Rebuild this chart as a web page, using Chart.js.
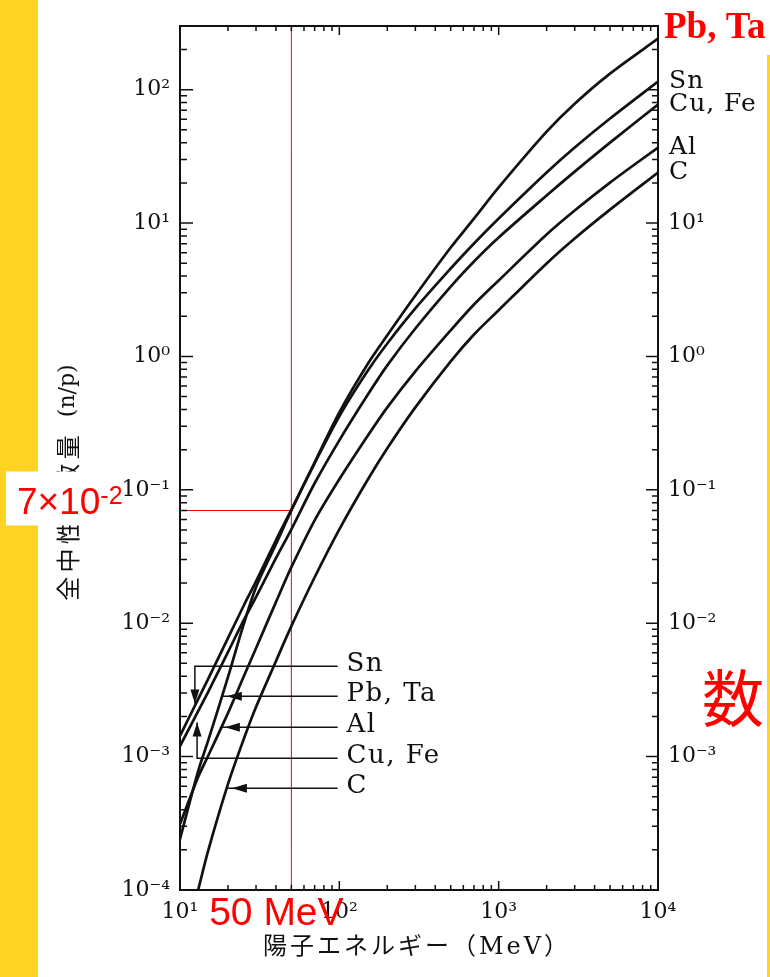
<!DOCTYPE html>
<html>
<head>
<meta charset="utf-8">
<title>陽子エネルギーと全中性子数量</title>
<style>
  html, body { margin: 0; padding: 0; background: #ffffff; }
  canvas { display: block; }
</style>
<script src="https://cdn.jsdelivr.net/npm/chart.js@4/dist/chart.umd.min.js"></script>
</head>
<body>
<canvas id="chart" width="770" height="977"></canvas>
<script>
// Proton energy grid (MeV) shared by all target curves
const energies = [10, 13, 15, 20, 25, 30, 40, 50, 70, 100, 150, 200, 300, 500, 700, 1000, 2000, 3000, 5000, 10000];

// Total neutron yield per proton (n/p) for each target material
const yieldPbTa = [2.41e-4, 7.78e-4, 1.31e-3, 3.94e-3, 9.66e-3, 1.86e-2, 3.91e-2, 7.0e-2, 0.161, 0.381, 0.871, 1.44, 2.86, 6.55, 10.8, 18.5, 48.4, 78.5, 132, 241];
const yieldSn   = [1.43e-3, 2.70e-3, 3.81e-3, 7.72e-3, 1.34e-2, 2.06e-2, 4.19e-2, 7.1e-2, 0.158, 0.356, 0.773, 1.25, 2.29, 4.56, 7.02, 10.8, 23.9, 36.8, 60.7, 115];
const yieldCuFe = [1.20e-3, 2.19e-3, 3.04e-3, 6.07e-3, 1.04e-2, 1.57e-2, 3.07e-2, 5.06e-2, 0.112, 0.235, 0.511, 0.857, 1.62, 3.34, 5.15, 7.79, 16.1, 24.3, 40.1, 77.2];
const yieldAl   = [3.12e-4, 7.02e-4, 1.01e-3, 2.12e-3, 3.94e-3, 6.50e-3, 1.44e-2, 2.63e-2, 5.91e-2, 0.120, 0.252, 0.415, 0.773, 1.57, 2.45, 3.71, 8.20, 12.4, 20.1, 36.8];
const yieldC    = [null, 1.0e-4, 1.96e-4, 6.22e-4, 1.33e-3, 2.35e-3, 5.19e-3, 9.50e-3, 2.21e-2, 5.06e-2, 0.118, 0.205, 0.415, 0.918, 1.46, 2.22, 4.98, 7.66, 12.6, 23.9];

// Labelled decades on each axis
const xTickValues = [10, 100, 1000, 10000];
const yLeftTickValues = [1e-4, 1e-3, 1e-2, 1e-1, 1, 10, 100];
const yRightTickValues = [1e-3, 1e-2, 1e-1, 1, 10];

// Reading marked on the Pb, Ta curve
const markEnergy = 50;   // MeV
const markYield = 7e-2;  // n/p

const series = [
  { label: 'Pb, Ta', values: yieldPbTa },
  { label: 'Sn', values: yieldSn },
  { label: 'Cu, Fe', values: yieldCuFe },
  { label: 'Al', values: yieldAl },
  { label: 'C', values: yieldC },
];

// Curve names written at the high-energy ends
const endLabels = [
  { text: 'Sn', values: yieldSn },
  { text: 'Cu, Fe', values: yieldCuFe },
  { text: 'Al', values: yieldAl },
  { text: 'C', values: yieldC },
];

// Leader lines of the low-energy key (data coordinates)
const callouts = [
  { text: 'Sn',     lineAt: 4.75e-3, elbowAt: 12.4, tipAt: 2.5e-3, dir: 'down' },
  { text: 'Pb, Ta', lineAt: 2.83e-3, tipEnergy: 18.3 },
  { text: 'Al',     lineAt: 1.66e-3, tipEnergy: 17.8 },
  { text: 'Cu, Fe', lineAt: 9.7e-4,  elbowAt: 12.8, tipAt: 1.8e-3, dir: 'up' },
  { text: 'C',      lineAt: 5.8e-4,  tipEnergy: 19.7 },
];
const calloutEndEnergy = 97.6;
const calloutTextEnergy = 111;

const supMap = { '-': '⁻', '0': '⁰', '1': '¹', '2': '²', '3': '³', '4': '⁴', '5': '⁵', '6': '⁶', '7': '⁷', '8': '⁸', '9': '⁹' };
const sup = n => String(n).split('').map(c => supMap[c]).join('');
const decadeLabel = v => {
  const e = Math.log10(v);
  return Math.abs(e - Math.round(e)) < 1e-6 ? '10' + sup(Math.round(e)) : '';
};

const INK = '#111111';
const RED = '#ff0000';
const YELLOW = '#fed321';
const serif = "'DejaVu Serif', 'DejaVu Sans', serif";
const cjk = "'Noto Sans CJK JP', 'Noto Sans CJK SC', sans-serif";

function arrowHead(ctx, x, y, dx, dy, len, half) {
  const bx = x - dx * len, by = y - dy * len;
  ctx.beginPath();
  ctx.moveTo(x, y);
  ctx.lineTo(bx - dy * half, by + dx * half);
  ctx.lineTo(bx + dy * half, by - dx * half);
  ctx.closePath();
  ctx.fill();
}

const decorations = {
  id: 'decorations',
  beforeDraw(chart) {
    const { ctx, width, height } = chart;
    ctx.save();
    ctx.fillStyle = '#ffffff';
    ctx.fillRect(0, 0, width, height);
    ctx.fillStyle = YELLOW;
    ctx.fillRect(0, 0, 38, height);
    ctx.fillRect(767, 55, width - 767, height - 55);
    ctx.restore();
  },
  beforeDatasetsDraw(chart) {
    const { ctx, chartArea: a, scales } = chart;
    const gx = scales.x.getPixelForValue(markEnergy);
    const gy = scales.y.getPixelForValue(markYield);
    ctx.save();
    ctx.strokeStyle = RED;
    ctx.lineWidth = 1;
    ctx.beginPath();
    ctx.moveTo(gx, a.top);
    ctx.lineTo(gx, a.bottom);
    ctx.moveTo(a.left, gy);
    ctx.lineTo(gx, gy);
    ctx.stroke();
    ctx.restore();
  },
  afterDraw(chart) {
    const { ctx, chartArea: a, scales } = chart;
    const xs = scales.x, ys = scales.y;
    ctx.save();

    // frame
    ctx.strokeStyle = INK;
    ctx.lineWidth = 2;
    ctx.strokeRect(a.left, a.top, a.right - a.left, a.bottom - a.top);

    // inward tick marks on all four sides
    ctx.lineWidth = 1.5;
    ctx.beginPath();
    for (let e = 1; e <= 4; e++) {
      for (let m = 1; m <= 9; m++) {
        const v = m * Math.pow(10, e);
        if (v > xs.max * 1.0001) break;
        const px = xs.getPixelForValue(v);
        const major = m === 1;
        ctx.moveTo(px, a.bottom); ctx.lineTo(px, a.bottom - (major ? 9 : 5));
        ctx.moveTo(px, a.top); ctx.lineTo(px, a.top + (major ? 9 : 5));
      }
    }
    for (let e = -4; e <= 2; e++) {
      for (let m = 1; m <= 9; m++) {
        const v = m * Math.pow(10, e);
        if (v > ys.max * 1.0001) break;
        const py = ys.getPixelForValue(v);
        const major = m === 1;
        ctx.moveTo(a.left, py); ctx.lineTo(a.left + (major ? 13 : 7), py);
        ctx.moveTo(a.right, py); ctx.lineTo(a.right - (major ? 12 : 6), py);
      }
    }
    ctx.stroke();

    // low-energy key with leader lines and arrows
    ctx.fillStyle = INK;
    ctx.strokeStyle = INK;
    ctx.lineWidth = 1.5;
    const xEnd = xs.getPixelForValue(calloutEndEnergy);
    const xText = xs.getPixelForValue(calloutTextEnergy);
    ctx.font = '26px ' + serif;
    ctx.textBaseline = 'middle';
    ctx.textAlign = 'left';
    ctx.letterSpacing = '1.5px';
    callouts.forEach(c => {
      const ly = ys.getPixelForValue(c.lineAt);
      ctx.beginPath();
      if (c.elbowAt) {
        const ex = xs.getPixelForValue(c.elbowAt);
        const ty = ys.getPixelForValue(c.tipAt);
        ctx.moveTo(xEnd, ly); ctx.lineTo(ex, ly); ctx.lineTo(ex, ty);
        ctx.stroke();
        arrowHead(ctx, ex, ty, 0, c.dir === 'down' ? 1 : -1, 14, 4.5);
      } else {
        const tx = xs.getPixelForValue(c.tipEnergy);
        ctx.moveTo(xEnd, ly); ctx.lineTo(tx, ly);
        ctx.stroke();
        arrowHead(ctx, tx + 5, ly, -1, 0, 15, 4.5);
      }
      ctx.fillText(c.text, xText, ly - 2);
    });

    // curve names at the right-hand ends
    ctx.font = '25px ' + serif;
    ctx.letterSpacing = '1px';
    endLabels.forEach(l => {
      const y = ys.getPixelForValue(l.values[l.values.length - 1]);
      ctx.fillText(l.text, a.right + 11, y);
    });
    ctx.letterSpacing = '0px';

    // axis titles
    ctx.fillStyle = INK;
    ctx.textAlign = 'center';
    ctx.textBaseline = 'middle';
    ctx.font = "24px 'DejaVu Serif', " + cjk;
    ctx.letterSpacing = '3px';
    ctx.fillText('陽子エネルギー（MeV）', (a.left + a.right) / 2 - 2, 948);
    ctx.letterSpacing = '0px';

    ctx.save();
    ctx.translate(68, 603);
    ctx.rotate(-Math.PI / 2);
    ctx.font = '24px ' + cjk;
    const yTitle = '全中性子数量';
    const pitch = 28.3;
    for (let i = 0; i < yTitle.length; i++) {
      ctx.fillText(yTitle[i], pitch * (i + 0.5), 0);
    }
    ctx.textAlign = 'left';
    ctx.font = '22px ' + serif;
    ctx.fillText('(n/p)', pitch * yTitle.length + 16, 0);
    ctx.restore();

    // red annotations of the marked reading
    const gx = xs.getPixelForValue(markEnergy);
    const gy = ys.getPixelForValue(markYield);
    const exp = Math.floor(Math.log10(markYield));
    const mant = Math.round(markYield / Math.pow(10, exp));
    ctx.fillStyle = '#ffffff';
    ctx.fillRect(6, gy - 39, 118, 54);
    ctx.fillStyle = RED;
    ctx.textAlign = 'left';
    ctx.textBaseline = 'alphabetic';
    ctx.font = "37px 'Liberation Sans', Arial, sans-serif";
    const base = mant + '×10';
    ctx.fillText(base, 17, gy + 4);
    const bw = ctx.measureText(base).width;
    ctx.font = "25px 'Liberation Sans', Arial, sans-serif";
    ctx.fillText(String(exp), 17 + bw, gy - 6);

    ctx.font = "39px 'Liberation Sans', Arial, sans-serif";
    ctx.textAlign = 'center';
    ctx.fillText(markEnergy + ' MeV', gx - 15, 925);

    ctx.font = "bold 37px 'Liberation Serif', serif";
    ctx.textAlign = 'left';
    ctx.fillText('Pb, Ta', 664, 38);

    ctx.font = '62px ' + cjk;
    ctx.textAlign = 'center';
    ctx.textBaseline = 'middle';
    ctx.fillText('数', 733, 698);

    ctx.restore();
  }
};

const tickFont = { family: serif, size: 22 };

new Chart(document.getElementById('chart'), {
  type: 'scatter',
  data: {
    datasets: series.map(s => ({
      label: s.label,
      data: energies.map((e, i) => ({ x: e, y: s.values[i] })).filter(p => p.y !== null),
      showLine: true,
      borderColor: INK,
      borderWidth: 2.7,
      pointRadius: 0,
      pointHoverRadius: 0,
      fill: false,
      tension: 0.3
    }))
  },
  options: {
    responsive: false,
    animation: false,
    devicePixelRatio: 1,
    layout: { padding: 0 },
    plugins: { legend: { display: false }, tooltip: { enabled: false } },
    events: [],
    scales: {
      x: {
        type: 'logarithmic',
        position: 'bottom',
        min: 10, max: 10000,
        grid: { display: false, drawTicks: false },
        border: { display: false },
        afterBuildTicks: s => { s.ticks = xTickValues.map(v => ({ value: v })); },
        afterFit: s => { s.height = 87; s.paddingLeft = 0; s.paddingRight = 0; },
        ticks: { callback: v => decadeLabel(v), font: tickFont, color: INK, padding: 9, autoSkip: false, maxRotation: 0 }
      },
      xTop: {
        type: 'logarithmic',
        position: 'top',
        min: 10, max: 10000,
        grid: { display: false, drawTicks: false },
        border: { display: false },
        ticks: { display: false },
        afterFit: s => { s.height = 26; s.paddingLeft = 0; s.paddingRight = 0; }
      },
      y: {
        type: 'logarithmic',
        position: 'left',
        min: 1e-4, max: 300,
        grid: { display: false, drawTicks: false },
        border: { display: false },
        afterBuildTicks: s => { s.ticks = yLeftTickValues.map(v => ({ value: v })); },
        afterFit: s => { s.width = 180; s.paddingTop = 0; s.paddingBottom = 0; },
        ticks: { callback: v => decadeLabel(v), font: tickFont, color: INK, padding: 10, autoSkip: false }
      },
      yRight: {
        type: 'logarithmic',
        position: 'right',
        min: 1e-4, max: 300,
        grid: { display: false, drawTicks: false },
        border: { display: false },
        afterBuildTicks: s => { s.ticks = yRightTickValues.map(v => ({ value: v })); },
        afterFit: s => { s.width = 112; s.paddingTop = 0; s.paddingBottom = 0; },
        ticks: { callback: v => decadeLabel(v), font: tickFont, color: INK, padding: 10, autoSkip: false }
      }
    }
  },
  plugins: [decorations]
});
</script>
</body>
</html>
